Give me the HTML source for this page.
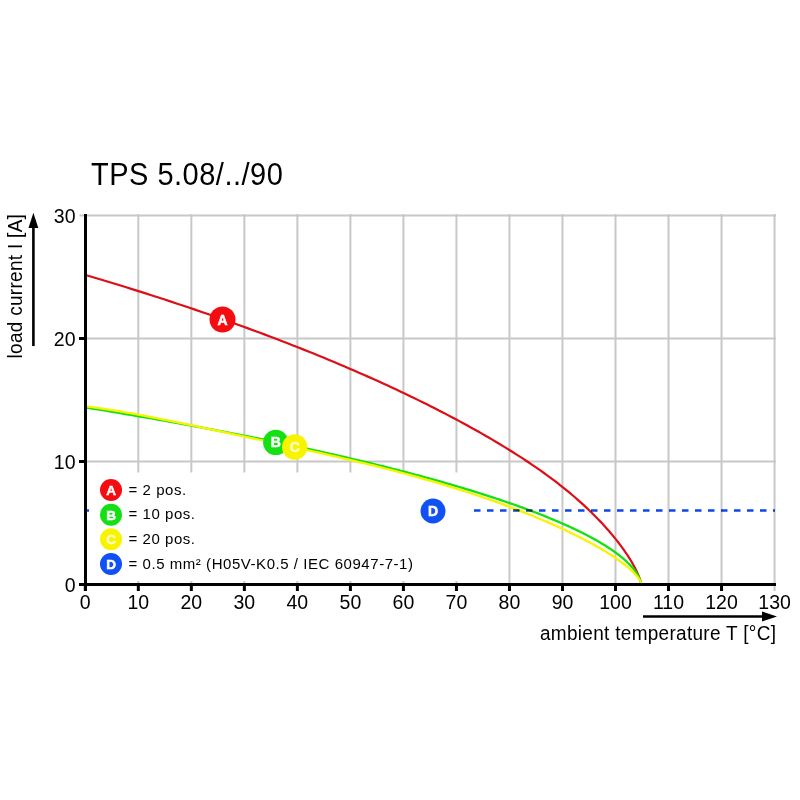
<!DOCTYPE html>
<html><head><meta charset="utf-8"><style>
html,body{margin:0;padding:0;background:#fff;}
svg{display:block;font-family:"Liberation Sans", sans-serif;}
</style></head><body>
<svg width="800" height="800" viewBox="0 0 800 800">
<line x1="138.32" y1="214" x2="138.32" y2="584" stroke="#c8c8c8" stroke-width="2"/>
<line x1="191.34" y1="214" x2="191.34" y2="584" stroke="#c8c8c8" stroke-width="2"/>
<line x1="244.36" y1="214" x2="244.36" y2="584" stroke="#c8c8c8" stroke-width="2"/>
<line x1="297.38" y1="214" x2="297.38" y2="584" stroke="#c8c8c8" stroke-width="2"/>
<line x1="350.40" y1="214" x2="350.40" y2="584" stroke="#c8c8c8" stroke-width="2"/>
<line x1="403.42" y1="214" x2="403.42" y2="584" stroke="#c8c8c8" stroke-width="2"/>
<line x1="456.44" y1="214" x2="456.44" y2="584" stroke="#c8c8c8" stroke-width="2"/>
<line x1="509.46" y1="214" x2="509.46" y2="584" stroke="#c8c8c8" stroke-width="2"/>
<line x1="562.48" y1="214" x2="562.48" y2="584" stroke="#c8c8c8" stroke-width="2"/>
<line x1="615.50" y1="214" x2="615.50" y2="584" stroke="#c8c8c8" stroke-width="2"/>
<line x1="668.52" y1="214" x2="668.52" y2="584" stroke="#c8c8c8" stroke-width="2"/>
<line x1="721.54" y1="214" x2="721.54" y2="584" stroke="#c8c8c8" stroke-width="2"/>
<line x1="774.56" y1="214" x2="774.56" y2="584" stroke="#c8c8c8" stroke-width="2"/>
<line x1="85.5" y1="461.50" x2="776" y2="461.50" stroke="#c8c8c8" stroke-width="2"/>
<line x1="85.5" y1="338.50" x2="776" y2="338.50" stroke="#c8c8c8" stroke-width="2"/>
<line x1="79.5" y1="215.50" x2="776" y2="215.50" stroke="#c8c8c8" stroke-width="2"/>
<line x1="85.30" y1="584" x2="85.30" y2="591" stroke="#000" stroke-width="3"/>
<line x1="138.32" y1="584" x2="138.32" y2="591" stroke="#000" stroke-width="3"/>
<line x1="191.34" y1="584" x2="191.34" y2="591" stroke="#000" stroke-width="3"/>
<line x1="244.36" y1="584" x2="244.36" y2="591" stroke="#000" stroke-width="3"/>
<line x1="297.38" y1="584" x2="297.38" y2="591" stroke="#000" stroke-width="3"/>
<line x1="350.40" y1="584" x2="350.40" y2="591" stroke="#000" stroke-width="3"/>
<line x1="403.42" y1="584" x2="403.42" y2="591" stroke="#000" stroke-width="3"/>
<line x1="456.44" y1="584" x2="456.44" y2="591" stroke="#000" stroke-width="3"/>
<line x1="509.46" y1="584" x2="509.46" y2="591" stroke="#000" stroke-width="3"/>
<line x1="562.48" y1="584" x2="562.48" y2="591" stroke="#000" stroke-width="3"/>
<line x1="615.50" y1="584" x2="615.50" y2="591" stroke="#000" stroke-width="3"/>
<line x1="668.52" y1="584" x2="668.52" y2="591" stroke="#000" stroke-width="3"/>
<line x1="721.54" y1="584" x2="721.54" y2="591" stroke="#000" stroke-width="3"/>
<line x1="774.56" y1="584" x2="774.56" y2="591" stroke="#c8c8c8" stroke-width="2"/>
<rect x="89" y="472.5" width="384" height="108.5" fill="#fff"/>
<path d="M85.50,274.98 L92.27,276.98 L99.00,278.99 L105.68,281.00 L112.33,283.02 L118.93,285.04 L125.50,287.07 L132.02,289.10 L138.50,291.13 L144.93,293.17 L151.33,295.21 L157.69,297.26 L164.00,299.31 L170.27,301.36 L176.50,303.42 L182.69,305.48 L188.84,307.54 L194.95,309.61 L201.01,311.68 L207.04,313.76 L213.02,315.83 L218.96,317.91 L224.86,319.99 L230.72,322.08 L236.53,324.17 L242.31,326.26 L248.04,328.35 L253.74,330.44 L259.39,332.54 L265.00,334.64 L270.56,336.74 L276.09,338.84 L281.58,340.95 L287.02,343.05 L292.42,345.16 L297.78,347.27 L303.10,349.38 L308.38,351.49 L313.62,353.60 L318.81,355.71 L323.97,357.83 L329.08,359.94 L334.15,362.06 L339.18,364.17 L344.17,366.29 L349.11,368.41 L354.02,370.52 L358.88,372.64 L363.71,374.76 L368.49,376.88 L373.23,378.99 L377.93,381.11 L382.58,383.23 L387.20,385.34 L391.77,387.46 L396.30,389.57 L400.79,391.69 L405.24,393.80 L409.65,395.91 L414.02,398.02 L418.34,400.13 L422.63,402.24 L426.87,404.35 L431.07,406.45 L435.23,408.56 L439.35,410.66 L443.43,412.76 L447.46,414.86 L451.46,416.96 L455.41,419.06 L459.32,421.15 L463.19,423.24 L467.02,425.33 L470.80,427.42 L474.55,429.50 L478.25,431.58 L481.92,433.66 L485.54,435.74 L489.12,437.81 L492.66,439.88 L496.15,441.95 L499.61,444.02 L503.02,446.08 L506.39,448.14 L509.73,450.20 L513.02,452.26 L516.26,454.31 L519.47,456.37 L522.64,458.42 L525.76,460.47 L528.84,462.52 L531.88,464.56 L534.88,466.61 L537.84,468.66 L540.76,470.70 L543.63,472.75 L546.47,474.79 L549.26,476.83 L552.01,478.88 L554.72,480.92 L557.39,482.96 L560.02,485.01 L562.60,487.05 L565.15,489.10 L567.65,491.14 L570.11,493.19 L572.53,495.23 L574.91,497.27 L577.25,499.31 L579.54,501.34 L581.80,503.37 L584.01,505.40 L586.18,507.42 L588.31,509.44 L590.40,511.45 L592.44,513.45 L594.45,515.45 L596.41,517.43 L598.34,519.41 L600.22,521.38 L602.06,523.34 L603.86,525.29 L605.61,527.23 L607.33,529.15 L609.00,531.06 L610.64,532.96 L612.23,534.85 L613.78,536.72 L615.29,538.58 L616.75,540.42 L618.18,542.24 L619.56,544.05 L620.91,545.84 L622.21,547.61 L623.47,549.36 L624.68,551.09 L625.86,552.81 L627.00,554.50 L628.09,556.17 L629.14,557.82 L630.16,559.45 L631.13,561.05 L632.05,562.63 L632.94,564.19 L633.79,565.72 L634.59,567.22 L635.35,568.70 L636.07,570.15 L636.75,571.57 L637.39,572.97 L637.99,574.34 L638.55,575.67 L639.06,576.98 L639.53,578.26 L639.96,579.50 L640.35,580.72 L640.70,581.90 L641.01,583.05 L641.28,584.16 L641.50,585.24" fill="none" stroke="#dc0e16" stroke-width="2.2"/>
<path d="M85.50,407.47 L92.27,408.56 L99.00,409.65 L105.68,410.74 L112.33,411.84 L118.93,412.94 L125.50,414.04 L132.02,415.14 L138.50,416.25 L144.93,417.35 L151.33,418.46 L157.69,419.57 L164.00,420.68 L170.27,421.80 L176.50,422.91 L182.69,424.03 L188.84,425.15 L194.95,426.27 L201.01,427.39 L207.04,428.51 L213.02,429.64 L218.96,430.76 L224.86,431.89 L230.72,433.02 L236.53,434.15 L242.31,435.28 L248.04,436.41 L253.74,437.55 L259.39,438.68 L265.00,439.82 L270.56,440.96 L276.09,442.09 L281.58,443.23 L287.02,444.37 L292.42,445.52 L297.78,446.66 L303.10,447.80 L308.38,448.95 L313.62,450.09 L318.81,451.24 L323.97,452.39 L329.08,453.53 L334.15,454.68 L339.18,455.83 L344.17,456.98 L349.11,458.13 L354.02,459.28 L358.88,460.44 L363.71,461.59 L368.49,462.74 L373.23,463.89 L377.93,465.05 L382.58,466.20 L387.20,467.36 L391.77,468.51 L396.30,469.67 L400.79,470.82 L405.24,471.98 L409.65,473.13 L414.02,474.29 L418.34,475.44 L422.63,476.60 L426.87,477.76 L431.07,478.91 L435.23,480.07 L439.35,481.22 L443.43,482.38 L447.46,483.53 L451.46,484.69 L455.41,485.84 L459.32,487.00 L463.19,488.15 L467.02,489.31 L470.80,490.46 L474.55,491.61 L478.25,492.77 L481.92,493.92 L485.54,495.07 L489.12,496.22 L492.66,497.38 L496.15,498.53 L499.61,499.68 L503.02,500.82 L506.39,501.97 L509.73,503.12 L513.02,504.27 L516.26,505.41 L519.47,506.56 L522.64,507.70 L525.76,508.85 L528.84,509.99 L531.88,511.13 L534.88,512.27 L537.84,513.41 L540.76,514.55 L543.63,515.69 L546.47,516.82 L549.26,517.96 L552.01,519.09 L554.72,520.22 L557.39,521.36 L560.02,522.49 L562.60,523.61 L565.15,524.74 L567.65,525.87 L570.11,526.99 L572.53,528.11 L574.91,529.23 L577.25,530.35 L579.54,531.47 L581.80,532.59 L584.01,533.70 L586.18,534.82 L588.31,535.93 L590.40,537.04 L592.44,538.14 L594.45,539.25 L596.41,540.35 L598.34,541.46 L600.22,542.56 L602.06,543.65 L603.86,544.75 L605.61,545.84 L607.33,546.94 L609.00,548.03 L610.64,549.11 L612.23,550.20 L613.78,551.28 L615.29,552.36 L616.75,553.44 L618.18,554.52 L619.56,555.59 L620.91,556.66 L622.21,557.73 L623.47,558.80 L624.68,559.86 L625.86,560.92 L627.00,561.98 L628.09,563.04 L629.14,564.09 L630.16,565.14 L631.13,566.19 L632.05,567.24 L632.94,568.28 L633.79,569.32 L634.59,570.36 L635.35,571.39 L636.07,572.42 L636.75,573.45 L637.39,574.47 L637.99,575.50 L638.55,576.51 L639.06,577.53 L639.53,578.54 L639.96,579.55 L640.35,580.56 L640.70,581.56 L641.01,582.56 L641.28,583.56 L641.50,584.55" fill="none" stroke="#14e014" stroke-width="2.3"/>
<path d="M85.50,406.27 L92.27,407.15 L99.00,408.08 L105.68,409.06 L112.33,410.08 L118.93,411.15 L125.50,412.26 L132.02,413.40 L138.50,414.58 L144.93,415.78 L151.33,417.01 L157.69,418.26 L164.00,419.52 L170.27,420.80 L176.50,422.09 L182.69,423.39 L188.84,424.69 L194.95,425.99 L201.01,427.29 L207.04,428.57 L213.02,429.85 L218.96,431.12 L224.86,432.38 L230.72,433.62 L236.53,434.87 L242.31,436.10 L248.04,437.32 L253.74,438.54 L259.39,439.75 L265.00,440.96 L270.56,442.15 L276.09,443.35 L281.58,444.53 L287.02,445.72 L292.42,446.89 L297.78,448.07 L303.10,449.24 L308.38,450.41 L313.62,451.57 L318.81,452.74 L323.97,453.90 L329.08,455.06 L334.15,456.21 L339.18,457.37 L344.17,458.53 L349.11,459.69 L354.02,460.85 L358.88,462.01 L363.71,463.17 L368.49,464.33 L373.23,465.49 L377.93,466.66 L382.58,467.83 L387.20,469.01 L391.77,470.19 L396.30,471.37 L400.79,472.56 L405.24,473.75 L409.65,474.95 L414.02,476.15 L418.34,477.35 L422.63,478.56 L426.87,479.77 L431.07,480.98 L435.23,482.20 L439.35,483.42 L443.43,484.64 L447.46,485.87 L451.46,487.10 L455.41,488.33 L459.32,489.56 L463.19,490.79 L467.02,492.03 L470.80,493.27 L474.55,494.50 L478.25,495.74 L481.92,496.98 L485.54,498.22 L489.12,499.46 L492.66,500.70 L496.15,501.95 L499.61,503.19 L503.02,504.43 L506.39,505.67 L509.73,506.91 L513.02,508.15 L516.26,509.38 L519.47,510.62 L522.64,511.85 L525.76,513.09 L528.84,514.32 L531.88,515.55 L534.88,516.77 L537.84,518.00 L540.76,519.22 L543.63,520.44 L546.47,521.65 L549.26,522.87 L552.01,524.08 L554.72,525.28 L557.39,526.48 L560.02,527.68 L562.60,528.88 L565.15,530.07 L567.65,531.25 L570.11,532.43 L572.53,533.61 L574.91,534.78 L577.25,535.94 L579.54,537.10 L581.80,538.25 L584.01,539.40 L586.18,540.54 L588.31,541.68 L590.40,542.81 L592.44,543.93 L594.45,545.05 L596.41,546.16 L598.34,547.26 L600.22,548.35 L602.06,549.44 L603.86,550.52 L605.61,551.59 L607.33,552.65 L609.00,553.71 L610.64,554.75 L612.23,555.79 L613.78,556.82 L615.29,557.84 L616.75,558.85 L618.18,559.85 L619.56,560.84 L620.91,561.82 L622.21,562.79 L623.47,563.75 L624.68,564.70 L625.86,565.64 L627.00,566.57 L628.09,567.48 L629.14,568.39 L630.16,569.28 L631.13,570.17 L632.05,571.04 L632.94,571.90 L633.79,572.75 L634.59,573.58 L635.35,574.40 L636.07,575.21 L636.75,576.01 L637.39,576.80 L637.99,577.57 L638.55,578.32 L639.06,579.07 L639.53,579.80 L639.96,580.51 L640.35,581.21 L640.70,581.90 L641.01,582.57 L641.28,583.23 L641.50,583.87" fill="none" stroke="#f8f400" stroke-width="2.3"/>
<line x1="84" y1="510.5" x2="89" y2="510.5" stroke="#0d48e6" stroke-width="2.5"/>
<line x1="474" y1="510.5" x2="775" y2="510.5" stroke="#0d48e6" stroke-width="2.5" stroke-dasharray="6.5 6.5" style="mix-blend-mode:multiply"/>
<line x1="85.5" y1="214" x2="85.5" y2="591" stroke="#000" stroke-width="3"/>
<line x1="79" y1="584.5" x2="776" y2="584.5" stroke="#000" stroke-width="3"/>
<line x1="79" y1="461.50" x2="85" y2="461.50" stroke="#000" stroke-width="3"/>
<line x1="79" y1="338.50" x2="85" y2="338.50" stroke="#000" stroke-width="3"/>
<circle cx="222.5" cy="319.5" r="13" fill="#f40c10"/>
<text x="222.5" y="324.54" font-size="14" font-weight="bold" fill="#fff" stroke="#fff" stroke-width="0.5" text-anchor="middle">A</text>
<circle cx="275.8" cy="442.4" r="12.7" fill="#14e014"/>
<text x="275.8" y="447.44" font-size="14" font-weight="bold" fill="#fff" stroke="#fff" stroke-width="0.5" text-anchor="middle">B</text>
<circle cx="294.7" cy="447" r="12.7" fill="#f8f400"/>
<text x="294.7" y="452.04" font-size="14" font-weight="bold" fill="#fdfbc8" stroke="#fdfbc8" stroke-width="0.5" text-anchor="middle">C</text>
<circle cx="433" cy="511" r="12.5" fill="#1150f2"/>
<text x="433" y="516.04" font-size="14" font-weight="bold" fill="#fff" stroke="#fff" stroke-width="0.5" text-anchor="middle">D</text>
<circle cx="111" cy="490.0" r="11" fill="#f40c10"/>
<text x="111" y="494.86" font-size="13.5" font-weight="bold" fill="#fff" stroke="#fff" stroke-width="0.5" text-anchor="middle">A</text>
<text x="128.5" y="494.50" font-size="15" letter-spacing="0.55">= 2 pos.</text>
<circle cx="111" cy="514.67" r="11" fill="#14e014"/>
<text x="111" y="519.53" font-size="13.5" font-weight="bold" fill="#fff" stroke="#fff" stroke-width="0.5" text-anchor="middle">B</text>
<text x="128.5" y="519.17" font-size="15" letter-spacing="0.55">= 10 pos.</text>
<circle cx="111" cy="539.34" r="11" fill="#f8f400"/>
<text x="111" y="544.20" font-size="13.5" font-weight="bold" fill="#fdfbc8" stroke="#fdfbc8" stroke-width="0.5" text-anchor="middle">C</text>
<text x="128.5" y="543.84" font-size="15" letter-spacing="0.55">= 20 pos.</text>
<circle cx="111" cy="564.01" r="11" fill="#1150f2"/>
<text x="111" y="568.87" font-size="13.5" font-weight="bold" fill="#fff" stroke="#fff" stroke-width="0.5" text-anchor="middle">D</text>
<text x="128.5" y="568.51" font-size="15" letter-spacing="0.55">= 0.5 mm² (H05V-K0.5 / IEC 60947-7-1)</text>
<text x="75.5" y="592.00" font-size="19.5" text-anchor="end">0</text>
<text x="75.5" y="469.00" font-size="19.5" text-anchor="end">10</text>
<text x="75.5" y="346.00" font-size="19.5" text-anchor="end">20</text>
<text x="75.5" y="223.00" font-size="19.5" text-anchor="end">30</text>
<text x="85.30" y="608.5" font-size="19.5" text-anchor="middle">0</text>
<text x="138.32" y="608.5" font-size="19.5" text-anchor="middle">10</text>
<text x="191.34" y="608.5" font-size="19.5" text-anchor="middle">20</text>
<text x="244.36" y="608.5" font-size="19.5" text-anchor="middle">30</text>
<text x="297.38" y="608.5" font-size="19.5" text-anchor="middle">40</text>
<text x="350.40" y="608.5" font-size="19.5" text-anchor="middle">50</text>
<text x="403.42" y="608.5" font-size="19.5" text-anchor="middle">60</text>
<text x="456.44" y="608.5" font-size="19.5" text-anchor="middle">70</text>
<text x="509.46" y="608.5" font-size="19.5" text-anchor="middle">80</text>
<text x="562.48" y="608.5" font-size="19.5" text-anchor="middle">90</text>
<text x="615.50" y="608.5" font-size="19.5" text-anchor="middle">100</text>
<text x="668.52" y="608.5" font-size="19.5" text-anchor="middle">110</text>
<text x="721.54" y="608.5" font-size="19.5" text-anchor="middle">120</text>
<text x="774.56" y="608.5" font-size="19.5" text-anchor="middle">130</text>
<text transform="translate(91,184.8) scale(1,1.06)" font-size="29" letter-spacing="0.5">TPS 5.08/../90</text>
<text transform="translate(21.5,358.5) rotate(-90) scale(1,1.06)" x="0" y="0" font-size="19" letter-spacing="0.3">load current I [A]</text>
<line x1="33.4" y1="346" x2="33.4" y2="225" stroke="#000" stroke-width="2.6"/>
<path d="M33.4,212.8 L38.3,228 L28.5,228 Z" fill="#000"/>
<text transform="translate(540,639.5) scale(1,1.07)" font-size="19" letter-spacing="0.3">ambient temperature T [°C]</text>
<line x1="643" y1="616.5" x2="765" y2="616.5" stroke="#000" stroke-width="2.6"/>
<path d="M777,616.5 L762,611.5 L762,621.5 Z" fill="#000"/>
</svg></body></html>
